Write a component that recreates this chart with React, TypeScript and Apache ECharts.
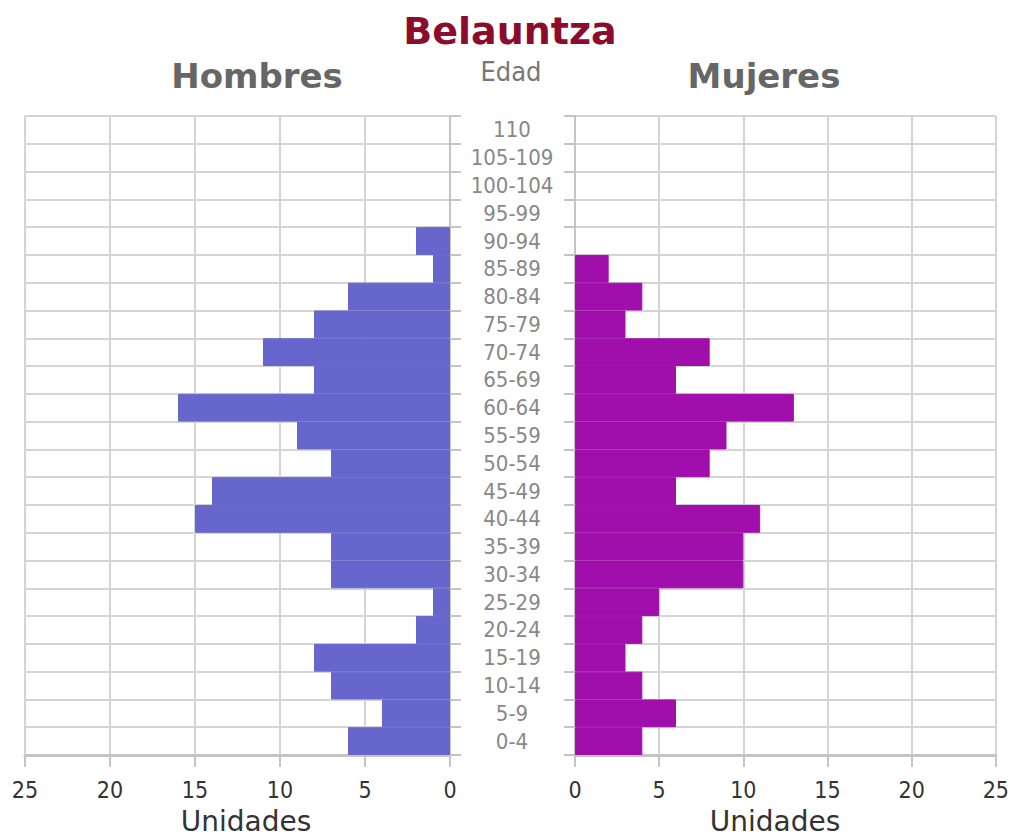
import React, { useEffect, useRef } from "react";
import * as echarts from "echarts";

const categories = [
  "0-4", "5-9", "10-14", "15-19", "20-24", "25-29", "30-34", "35-39", "40-44",
  "45-49", "50-54", "55-59", "60-64", "65-69", "70-74", "75-79", "80-84",
  "85-89", "90-94", "95-99", "100-104", "105-109", "110",
];
const hombres = [6, 4, 7, 8, 2, 1, 7, 7, 15, 14, 7, 9, 16, 8, 11, 8, 6, 1, 2, 0, 0, 0, 0];
const mujeres = [4, 6, 4, 3, 4, 5, 10, 10, 11, 6, 8, 9, 13, 6, 8, 3, 4, 2, 0, 0, 0, 0, 0];
const xMin = 0;
const xMax = 25;
const xStep = 5;

const title = "Belauntza";
const leftHeader = "Hombres";
const rightHeader = "Mujeres";
const centerHeader = "Edad";
const axisName = "Unidades";

const MALE = "#6666cc";
const FEMALE = "#a00eac";
const GRID = "#d4d4d4";
const AXIS = "#c4c4c4";
const COND = "'DejaVu Sans Condensed', 'DejaVu Sans', sans-serif";
const SANS = "'DejaVu Sans', sans-serif";

const barItems = (values: number[], color: string) =>
  values.map((v) => ({
    value: v,
    itemStyle: { color, borderColor: color, borderWidth: v > 0 ? 1 : 0 },
  }));

export default function App() {
  const ref = useRef<HTMLDivElement>(null);
  useEffect(() => {
    if (!ref.current) return;
    const chart = echarts.init(ref.current, null, { renderer: "svg" });
    const valueAxis = (gridIndex: number, inverse: boolean) => ({
      type: "value",
      gridIndex,
      min: xMin,
      max: xMax,
      interval: xStep,
      inverse,
      axisLine: { show: true, lineStyle: { color: AXIS, width: 3 } },
      axisTick: { show: true, length: 12, lineStyle: { color: AXIS, width: 2 } },
      splitLine: { show: true, lineStyle: { color: GRID, width: 2 } },
      axisLabel: { color: "#333", fontSize: 23, fontFamily: COND, margin: 23 },
    });
    const catAxis = (gridIndex: number, position: string, showLabel: boolean) => ({
      type: "category",
      gridIndex,
      position,
      data: categories,
      axisLine: { show: true, lineStyle: { color: AXIS, width: 2 } },
      axisTick: { show: true, length: 11, lineStyle: { color: AXIS, width: 2 } },
      splitLine: { show: true, lineStyle: { color: GRID, width: 2 } },
      axisLabel: {
        show: showLabel,
        interval: 0,
        align: "center",
        margin: 62,
        color: "#888",
        fontSize: 22,
        fontFamily: COND,
      },
    });
    chart.setOption({
      animation: false,
      backgroundColor: "#fff",
      grid: [
        { left: 25, width: 425, top: 116, height: 639 },
        { left: 575, width: 425, top: 116, height: 639 },
      ],
      xAxis: [valueAxis(0, true), valueAxis(1, false)],
      yAxis: [catAxis(0, "right", true), catAxis(1, "left", false)],
      series: [
        {
          type: "bar",
          name: leftHeader,
          xAxisIndex: 0,
          yAxisIndex: 0,
          data: barItems(hombres, MALE),
          barWidth: "100%",
          z: 5,
        },
        {
          type: "bar",
          name: rightHeader,
          xAxisIndex: 1,
          yAxisIndex: 1,
          data: barItems(mujeres, FEMALE),
          barWidth: "100%",
          z: 5,
        },
      ],
      graphic: [
        {
          type: "text",
          x: 510,
          y: 31,
          style: {
            text: title,
            fill: "#8b0c2c",
            font: `bold 38px ${SANS}`,
            textAlign: "center",
            textVerticalAlign: "middle",
          },
        },
        {
          type: "text",
          x: 257,
          y: 76,
          style: {
            text: leftHeader,
            fill: "#666",
            font: `bold 34px ${SANS}`,
            textAlign: "center",
            textVerticalAlign: "middle",
          },
        },
        {
          type: "text",
          x: 764,
          y: 76,
          style: {
            text: rightHeader,
            fill: "#666",
            font: `bold 34px ${SANS}`,
            textAlign: "center",
            textVerticalAlign: "middle",
          },
        },
        {
          type: "text",
          x: 511,
          y: 71,
          style: {
            text: centerHeader,
            fill: "#777",
            font: `27px ${COND}`,
            textAlign: "center",
            textVerticalAlign: "middle",
          },
        },
        {
          type: "text",
          x: 246,
          y: 821,
          style: {
            text: axisName,
            fill: "#333",
            font: `28px ${SANS}`,
            textAlign: "center",
            textVerticalAlign: "middle",
          },
        },
        {
          type: "text",
          x: 775,
          y: 821,
          style: {
            text: axisName,
            fill: "#333",
            font: `28px ${SANS}`,
            textAlign: "center",
            textVerticalAlign: "middle",
          },
        },
      ],
    });
    return () => chart.dispose();
  }, []);
  return (
    <div
      ref={ref}
      style={{ position: "absolute", left: 0, top: 0, width: 1012, height: 836 }}
    />
  );
}
